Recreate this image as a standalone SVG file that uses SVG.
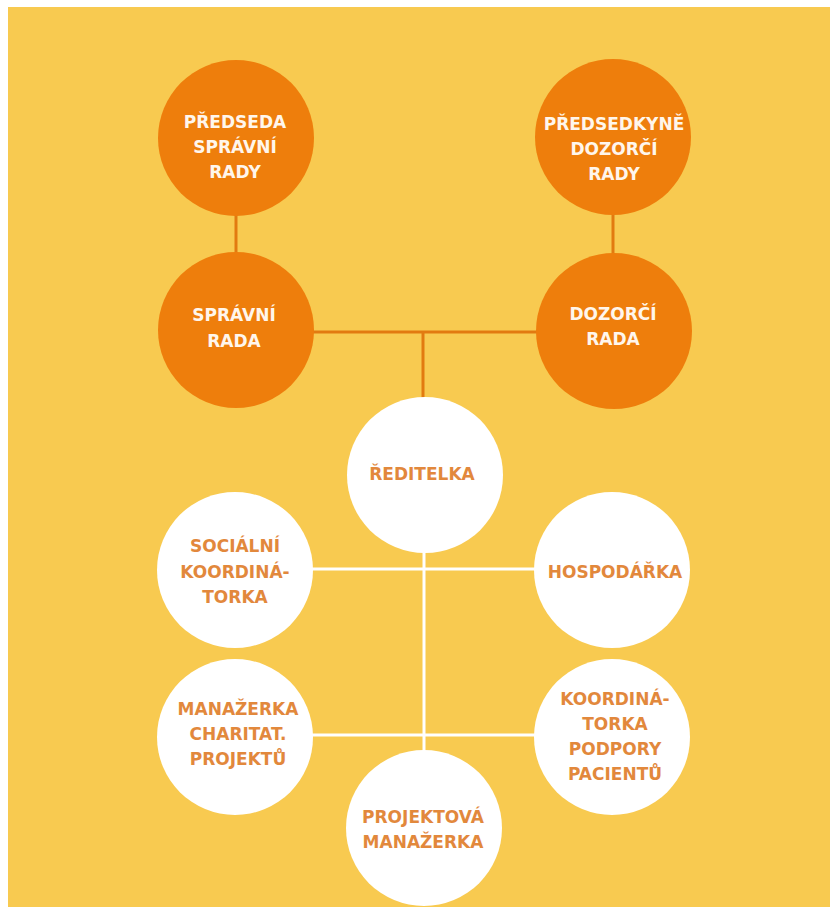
<svg xmlns="http://www.w3.org/2000/svg" width="830" height="907" viewBox="0 0 830 907">
<style>
.bg{fill:#F8CA50}
.org{fill:#EE7E0C}
.wht{fill:#FFFFFF}
.tw{font-family:"DejaVu Sans",Verdana,sans-serif;font-weight:bold;font-size:17px;fill:#FFF6EC;text-anchor:middle}
.to{font-family:"DejaVu Sans",Verdana,sans-serif;font-weight:bold;font-size:17px;fill:#E2883C;text-anchor:middle}
.lo{stroke:#E27A10;stroke-width:3;fill:none}
.lw{stroke:#FFFFFF;stroke-width:3;fill:none}
</style>
<rect x="0" y="0" width="830" height="907" fill="#FFFFFF"/>
<rect class="bg" x="8" y="7" width="822" height="900"/>
<g id="connectors">
<line class="lo" x1="236" y1="210" x2="236" y2="258"/>
<line class="lo" x1="613" y1="210" x2="613" y2="258"/>
<line class="lo" x1="306" y1="332" x2="542" y2="332"/>
<line class="lo" x1="423" y1="332" x2="423" y2="400"/>
<line class="lw" x1="308" y1="569" x2="540" y2="569"/>
<line class="lw" x1="424" y1="550" x2="424" y2="753"/>
<line class="lw" x1="308" y1="735" x2="540" y2="735"/>
</g>
<g id="predseda-spravni-rady">
<circle class="org" cx="236" cy="138" r="78"/>
<text class="tw" x="235" y="128">PŘEDSEDA</text>
<text class="tw" x="235" y="153">SPRÁVNÍ</text>
<text class="tw" x="235" y="178">RADY</text>
</g>
<g id="predsedkyne-dozorci-rady">
<circle class="org" cx="613" cy="137" r="78"/>
<text class="tw" x="614" y="130">PŘEDSEDKYNĚ</text>
<text class="tw" x="614" y="155">DOZORČÍ</text>
<text class="tw" x="614" y="180">RADY</text>
</g>
<g id="spravni-rada">
<circle class="org" cx="236" cy="330" r="78"/>
<text class="tw" x="234" y="321">SPRÁVNÍ</text>
<text class="tw" x="234" y="347">RADA</text>
</g>
<g id="dozorci-rada">
<circle class="org" cx="614" cy="331" r="78"/>
<text class="tw" x="613" y="320">DOZORČÍ</text>
<text class="tw" x="613" y="345">RADA</text>
</g>
<g id="reditelka">
<circle class="wht" cx="425" cy="475" r="78"/>
<text class="to" x="422" y="480">ŘEDITELKA</text>
</g>
<g id="socialni-koordinatorka">
<circle class="wht" cx="235" cy="570" r="78"/>
<text class="to" x="235" y="552">SOCIÁLNÍ</text>
<text class="to" x="235" y="578">KOORDINÁ-</text>
<text class="to" x="235" y="603">TORKA</text>
</g>
<g id="hospodarka">
<circle class="wht" cx="612" cy="570" r="78"/>
<text class="to" x="615" y="578">HOSPODÁŘKA</text>
</g>
<g id="manazerka-charitat-projektu">
<circle class="wht" cx="235" cy="737" r="78"/>
<text class="to" x="238" y="715">MANAŽERKA</text>
<text class="to" x="238" y="740">CHARITAT.</text>
<text class="to" x="238" y="765">PROJEKTŮ</text>
</g>
<g id="koordinatorka-podpory-pacientu">
<circle class="wht" cx="612" cy="737" r="78"/>
<text class="to" x="615" y="705">KOORDINÁ-</text>
<text class="to" x="615" y="730">TORKA</text>
<text class="to" x="615" y="755">PODPORY</text>
<text class="to" x="615" y="780">PACIENTŮ</text>
</g>
<g id="projektova-manazerka">
<circle class="wht" cx="424" cy="828" r="78"/>
<text class="to" x="423" y="823">PROJEKTOVÁ</text>
<text class="to" x="423" y="848">MANAŽERKA</text>
</g>
</svg>
